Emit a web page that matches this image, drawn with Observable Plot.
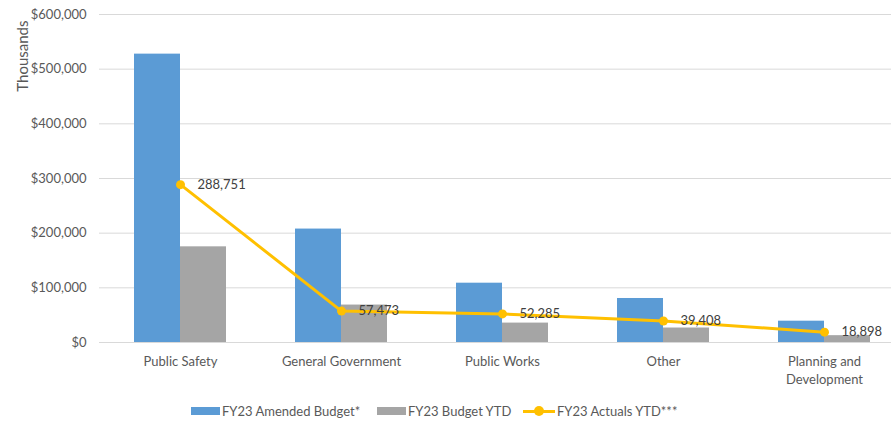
<!DOCTYPE html>
<html>
<head>
<meta charset="utf-8">
<script src="https://cdn.jsdelivr.net/npm/d3@7"></script>
<script src="https://cdn.jsdelivr.net/npm/@observablehq/plot@0.6"></script>
<style>
  body { margin: 0; background: #fff; font-family: "Lato", sans-serif; }
  #chart { width: 891px; }
  .legend { display: flex; justify-content: flex-start; align-items: center; height: 14px; margin-top: 12px; font-size: 13px; color: #595959; }
  .legend .item { display: flex; align-items: center; position: absolute; }
  .legend .sw { width: 29px; height: 8px; margin-right: 2px; }
  .legend .ln { position: relative; width: 32px; height: 3px; background: #FFC000; margin-right: 2px; }
  .legend .ln::after { content: ""; position: absolute; left: 11px; top: -3.5px; width: 10px; height: 10px; border-radius: 50%; background: #FFC000; }
</style>
</head>
<body>
<div id="chart"></div>
<script>
const categories = ["Public Safety", "General Government", "Public Works", "Other", "Planning and Development"];
const amendedBudget = [527500, 207500, 108500, 80500, 39000];
const budgetYTD = [175000, 68500, 35500, 26500, 12500];
const actualsYTD = [288751, 57473, 52285, 39408, 18898];
const yTicks = [0, 100000, 200000, 300000, 400000, 500000, 600000];
const seriesNames = ["FY23 Amended Budget*", "FY23 Budget YTD", "FY23 Actuals YTD***"];

const rows = categories.map((c, i) => ({cat: c, amended: amendedBudget[i], ytd: budgetYTD[i], actual: actualsYTD[i]}));
const fmt = d3.format(",");
const labelMap = {"Planning and Development": "Planning and\nDevelopment"};

const plot = Plot.plot({
  width: 891,
  height: 392,
  marginLeft: 99,
  marginRight: 0,
  marginTop: 14,
  marginBottom: 50,
  style: {fontFamily: "Lato, sans-serif", fontSize: "13px", color: "#595959", overflow: "visible"},
  x: {domain: categories, range: [99.5, 904.5], paddingInner: 0.4286, paddingOuter: 0.2143, label: null},
  y: {domain: [0, 600000], label: null},
  marks: [
    Plot.gridY(yTicks, {stroke: "#d9d9d9", strokeOpacity: 1, strokeWidth: 1}),
    Plot.barY(rows, {x: "cat", y: "amended", fill: "#5B9BD5", insetRight: 46}),
    Plot.barY(rows, {x: "cat", y: "ytd", fill: "#A5A5A5", insetLeft: 46}),
    Plot.lineY(rows, {x: "cat", y: "actual", stroke: "#FFC000", strokeWidth: 3}),
    Plot.dot(rows, {x: "cat", y: "actual", fill: "#FFC000", r: 4.5}),
    Plot.text(rows, {x: "cat", y: "actual", text: d => fmt(d.actual), dx: 17, textAnchor: "start", fill: "#404040", fontSize: 13}),
    Plot.axisY(yTicks, {tickSize: 0, tickPadding: 13, tickFormat: d => "$" + fmt(d), fill: "#595959", fontSize: 13}),
    Plot.axisX({tickSize: 0, tickPadding: 10, tickFormat: d => labelMap[d] || d, lineHeight: 1.42, fill: "#595959", fontSize: 13}),
    Plot.text(["Thousands"], {frameAnchor: "top-left", text: d => d, rotate: -90, textAnchor: "end", dx: -82, dy: 6, fill: "#595959", fontSize: 15})
  ]
});
document.getElementById("chart").appendChild(plot);

const legend = document.createElement("div");
legend.className = "legend";
legend.style.position = "relative";
const lefts = [191, 377, 523];
const colors = ["#5B9BD5", "#A5A5A5", null];
seriesNames.forEach((name, i) => {
  const item = document.createElement("div");
  item.className = "item";
  item.style.left = lefts[i] + "px";
  const sw = document.createElement("span");
  if (colors[i]) { sw.className = "sw"; sw.style.background = colors[i]; }
  else { sw.className = "ln"; }
  item.appendChild(sw);
  const t = document.createElement("span");
  t.textContent = name;
  item.appendChild(t);
  legend.appendChild(item);
});
document.getElementById("chart").appendChild(legend);
</script>
</body>
</html>
